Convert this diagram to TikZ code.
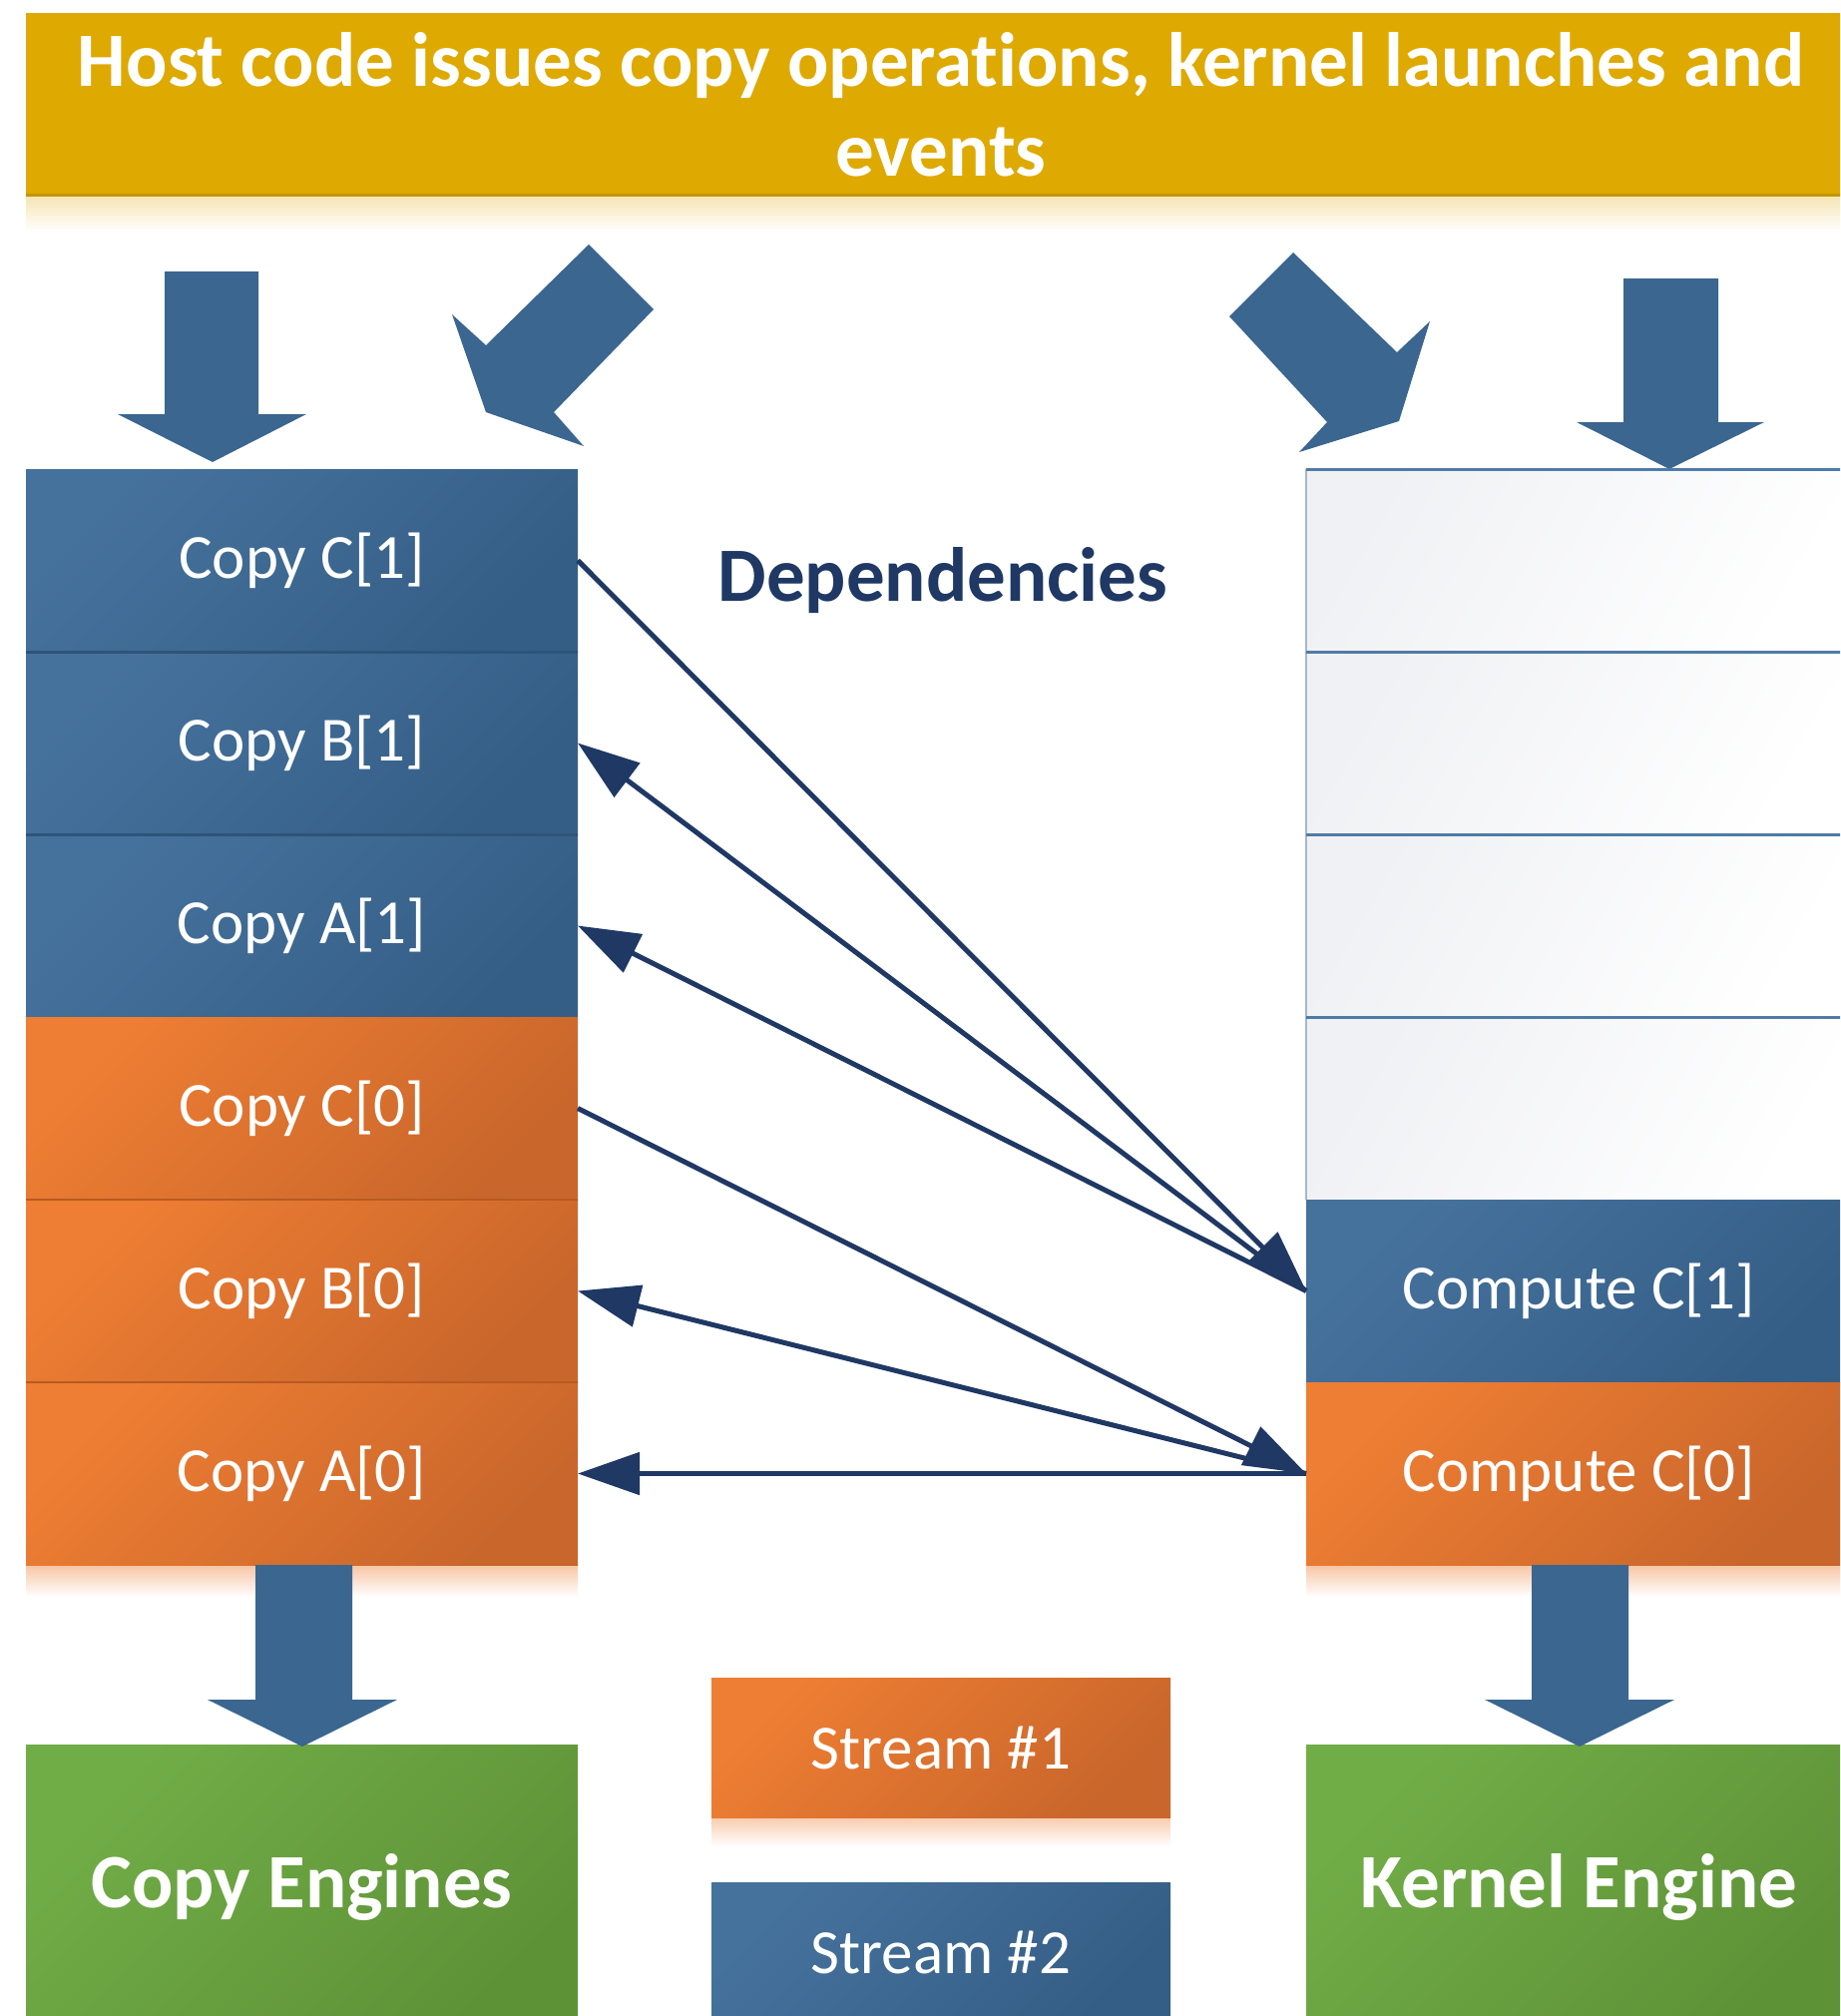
\documentclass[tikz,border=0pt]{standalone}
\usepackage{fontspec}
\setmainfont{Carlito}[Ligatures=NoCommon]
\usetikzlibrary{arrows.meta}
\definecolor{blueL}{HTML}{45729D}
\definecolor{blueD}{HTML}{355E86}
\definecolor{blueSep}{HTML}{2E5479}
\definecolor{orangeL}{HTML}{EE7E33}
\definecolor{orangeD}{HTML}{C9662B}
\definecolor{orangeSep}{HTML}{B85A21}
\definecolor{greenL}{HTML}{71AD47}
\definecolor{greenD}{HTML}{5E9237}
\definecolor{gold}{HTML}{DEA900}
\definecolor{goldD}{HTML}{C49400}
\definecolor{navy}{HTML}{1F3864}
\definecolor{arrowblue}{HTML}{3A6690}
\definecolor{wborder}{HTML}{4F7BA7}
\definecolor{wedge}{HTML}{A7B8CA}
\definecolor{wgray}{HTML}{F0F1F4}
\newcommand{\regfont}{\fontsize{63}{76}\selectfont}
\newcommand{\boldfont}{\fontsize{77}{90}\selectfont\bfseries}
\tikzset{
  cell/.style={rectangle, inner sep=0pt, outer sep=0pt, text=white, font=\regfont},
  bluebox/.style={cell, top color=blueL, bottom color=blueD, shading angle=45},
  orangebox/.style={cell, top color=orangeL, bottom color=orangeD, shading angle=45},
  greenbox/.style={cell, top color=greenL, bottom color=greenD, shading angle=45, font=\boldfont},
  whitebox/.style={cell, top color=wgray, bottom color=white, shading angle=60},
  colw/.style={minimum width=553pt, minimum height=183pt},
  colk/.style={minimum width=547pt, minimum height=183pt},
  dep/.style={draw=navy, line width=5pt, -{Triangle[length=62pt,width=42pt]}},
  blockarrow/.style={fill=arrowblue, draw=none},
}
\begin{document}
\begin{tikzpicture}[x=1pt,y=-1pt]
\useasboundingbox (0,0) rectangle (1844,2020);
\clip (0,0) rectangle (1844,2020);
\fill[white] (0,0) rectangle (1844,2020);

% title shadow and title
\shade[top color=gold!30, bottom color=white] (26,196) rectangle (1870,232);
\node[rectangle, fill=gold, inner sep=0pt, outer sep=0pt, minimum width=1834pt, minimum height=183pt,
      text=white, font=\boldfont, align=center] (title) at (943,104.5)
      {Host code issues copy operations, kernel launches and\\events};
\draw[goldD, line width=3pt] (title.south west) -- (title.south east);

% top block arrows
\path[blockarrow] (165,272) -- (259,272) -- (259,415) -- (307,415) -- (213,463) -- (118,415) -- (165,415) -- cycle;
\path[blockarrow] (590,245) -- (487,346) -- (453,315) -- (487,413) -- (585,447) -- (555,413) -- (655,310) -- cycle;
\path[blockarrow] (1296,253) -- (1400,353) -- (1433,322) -- (1402,422) -- (1302,453) -- (1330,423) -- (1232,317) -- cycle;
\path[blockarrow] (1627,279) -- (1722,279) -- (1722,423) -- (1768,423) -- (1673,470) -- (1580,423) -- (1627,423) -- cycle;

% shadows under columns
\shade[top color=orangeL!45, bottom color=white] (26,1568) rectangle (579,1600);
\shade[top color=orangeL!45, bottom color=white] (1309,1568) rectangle (1856,1600);
\shade[top color=orangeL!40, bottom color=white] (713,1821) rectangle (1173,1850);

% left column
\node[bluebox, colw] (cc1) at (302.5,561.5) {Copy C[1]};
\node[bluebox, colw] (cb1) at (302.5,744.5) {Copy B[1]};
\node[bluebox, colw] (ca1) at (302.5,927.5) {Copy A[1]};
\node[orangebox, colw] (cc0) at (302.5,1110.5) {Copy C[0]};
\node[orangebox, colw] (cb0) at (302.5,1293.5) {Copy B[0]};
\node[orangebox, colw] (ca0) at (302.5,1476.5) {Copy A[0]};
\draw[blueSep, line width=3pt] (cc1.south west) -- (cc1.south east);
\draw[blueSep, line width=3pt] (cb1.south west) -- (cb1.south east);
\draw[orangeSep, line width=2.5pt] (cc0.south west) -- (cc0.south east);
\draw[orangeSep, line width=2.5pt] (cb0.south west) -- (cb0.south east);

% right column
\node[whitebox, colk] (w1) at (1582.5,561.5) {};
\node[whitebox, colk] (w2) at (1582.5,744.5) {};
\node[whitebox, colk] (w3) at (1582.5,927.5) {};
\node[whitebox, colk] (w4) at (1582.5,1110.5) {};
\node[bluebox, colk] (k1) at (1582.5,1293.5) {Compute C[1]};
\node[orangebox, colk] (k0) at (1582.5,1476.5) {Compute C[0]};
\draw[wedge, line width=2pt] (w1.north west) -- (w4.south west);
\draw[wborder, line width=3pt] (w1.north west) -- (w1.north east);
\draw[wborder, line width=3pt] (w1.south west) -- (w1.south east);
\draw[wborder, line width=3pt] (w2.south west) -- (w2.south east);
\draw[wborder, line width=3pt] (w3.south west) -- (w3.south east);

% dependencies label
\node[text=navy, font=\boldfont, inner sep=0pt] (deps) at (945,582) {Dependencies};

% dependency connectors
\draw[dep] (cc1.east) -- (k1.west);
\draw[dep] (k1.west) -- (cb1.east);
\draw[dep] (k1.west) -- (ca1.east);
\draw[dep] (cc0.east) -- (k0.west);
\draw[dep] (k0.west) -- (cb0.east);
\draw[dep] (k0.west) -- (ca0.east);

% engines
\node[greenbox, minimum width=553pt, minimum height=286pt] (ce) at (302.5,1891) {Copy Engines};
\node[greenbox, minimum width=547pt, minimum height=286pt] (ke) at (1582.5,1891) {Kernel Engine};

% bottom block arrows
\path[blockarrow] (256,1568) -- (353,1568) -- (353,1703) -- (398,1703) -- (303,1750) -- (208,1703) -- (256,1703) -- cycle;
\path[blockarrow] (1535,1568) -- (1632,1568) -- (1632,1703) -- (1678,1703) -- (1583,1750) -- (1488,1703) -- (1535,1703) -- cycle;

% legend
\node[orangebox, minimum width=460pt, minimum height=140pt] (s1) at (943,1751) {Stream \#1};
\node[bluebox, minimum width=460pt, minimum height=140pt] (s2) at (943,1956) {Stream \#2};
\end{tikzpicture}
\end{document}
